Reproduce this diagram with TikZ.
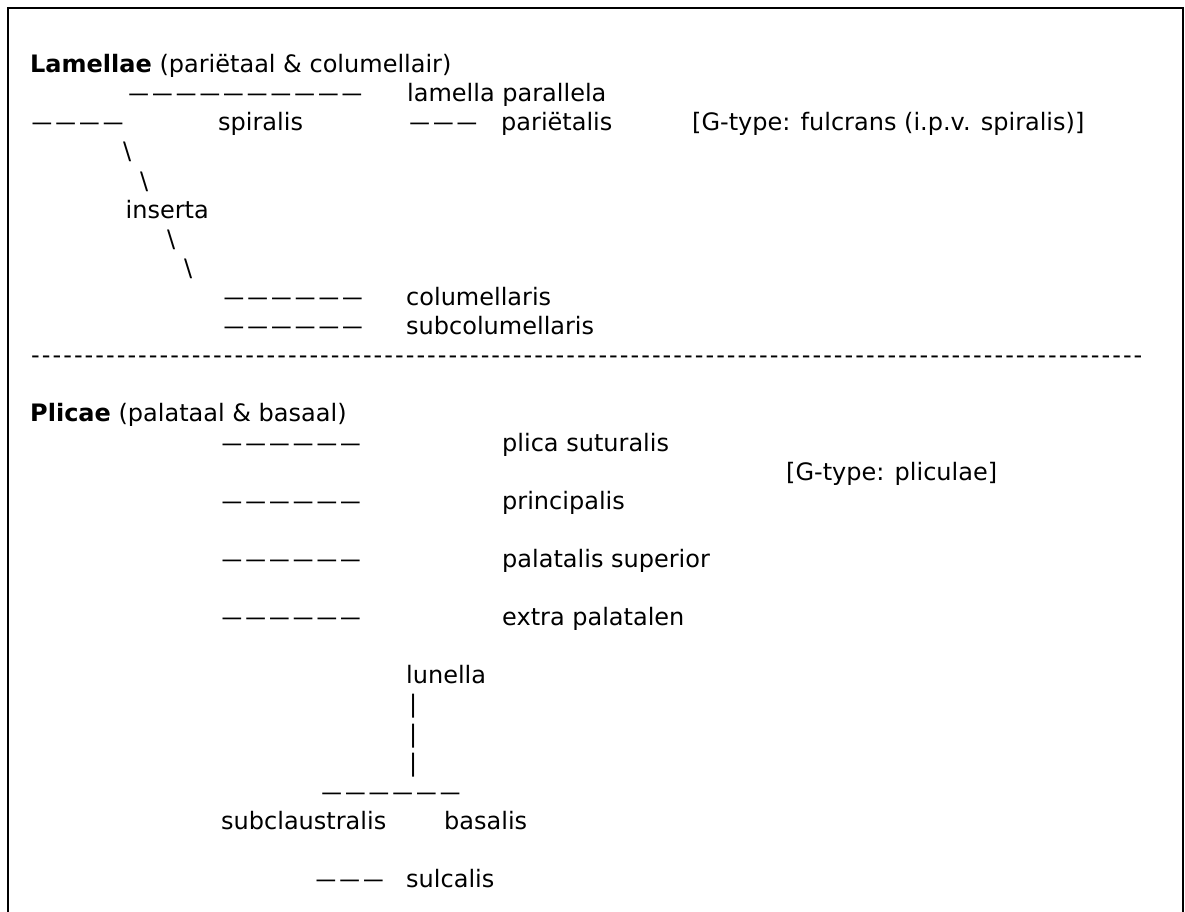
\documentclass[tikz,border=0pt]{standalone}
\usepackage{fontspec}
\setmainfont{DejaVu Sans}
\usepackage{graphicx}

\newcount\repcount
\newcommand{\rep}[2]{\repcount = #1\relax\loop\ifnum\repcount > 0 #2\advance\repcount by -1 \repeat}
\newcommand{\dashes}[1]{\rep{#1}{\makebox[23.7pt]{\scalebox{0.86}[1]{—}}}}
\newcommand{\hyphens}[1]{\rep{#1}{\makebox[10.7pt]{-}}}

\begin{document}
\begin{tikzpicture}[x = 1pt, y = -1pt,
	txt/.style = {anchor = base west, inner sep = 0pt, font = \fontsize{24}{29}\selectfont},
	frame/.style = {line width = 1.6pt}]

	% Definitions

	\def\B{72.7}	% Baseline of the first row
	\def\P{29.1}	% Row pitch

	\useasboundingbox (0, 0) rectangle (1185, 912);

	% Frame, open at the bottom

	\draw [frame] (7.7, 912) -- (7.7, 8.3) -- (1182.7, 8.3) -- (1182.7, 912);

	% Lamellae

	\node [txt] (lamellae) at (30, {\B}) {\textbf{Lamellae} (pariëtaal \& columellair)};
	\node [txt] (parallelabar) at (126.7, {\B + 1 * \P}) {\dashes{10}};
	\node [txt] (parallela) at (407, {\B + 1 * \P}) {lamella parallela};
	\node [txt] (spiralisbar) at (30, {\B + 2 * \P}) {\dashes{4}};
	\node [txt] (spiralis) at (218, {\B + 2 * \P}) {spiralis};
	\node [txt] (parietbar) at (407.6, {\B + 2 * \P}) {\dashes{3}};
	\node [txt] (parietalis) at (501, {\B + 2 * \P}) {pariëtalis};
	\node [txt] (fulcrans) at (692, {\B + 2 * \P}) {[G-type: fulcrans (i.p.v. spiralis)]};

	\node [txt] (slash1) at (123, {\B + 3 * \P}) {\textbackslash};
	\node [txt] (slash2) at (140, {\B + 4 * \P}) {\textbackslash};
	\node [txt] (inserta) at (125.5, {\B + 5 * \P}) {inserta};
	\node [txt] (slash3) at (167, {\B + 6 * \P}) {\textbackslash};
	\node [txt] (slash4) at (184, {\B + 7 * \P}) {\textbackslash};

	\node [txt] (columbar) at (222, {\B + 8 * \P}) {\dashes{6}};
	\node [txt] (columellaris) at (406, {\B + 8 * \P}) {columellaris};
	\node [txt] (subcolumbar) at (222, {\B + 9 * \P}) {\dashes{6}};
	\node [txt] (subcolumellaris) at (406, {\B + 9 * \P}) {subcolumellaris};

	% Separator

	\node [txt] (sepline) at (30, {\B + 10 * \P}) {\hyphens{104}};

	% Plicae

	\node [txt] (plicae) at (30, {\B + 12 * \P}) {\textbf{Plicae} (palataal \& basaal)};

	\foreach \r/\name/\lbl in {13/suturalis/plica suturalis, 15/principalis/principalis,
		17/superior/palatalis superior, 19/extra/extra palatalen}
	{
		\node [txt] (\name bar) at (220, {\B + \r * \P}) {\dashes{6}};
		\node [txt] (\name) at (502, {\B + \r * \P}) {\lbl};
	}

	\node [txt] (pliculae) at (786, {\B + 14 * \P}) {[G-type: pliculae]};

	\node [txt] (lunella) at (406, {\B + 21 * \P}) {lunella};
	\foreach \r in {22, 23, 24}
		\node [txt] (stem\r) at (409, {\B + \r * \P}) {\textbar};

	\node [txt] (basebar) at (319.6, {\B + 25 * \P}) {\dashes{6}};
	\node [txt] (subclaustralis) at (221, {\B + 26 * \P}) {subclaustralis};
	\node [txt] (basalis) at (444, {\B + 26 * \P}) {basalis};

	\node [txt] (sulcbar) at (314, {\B + 28 * \P}) {\dashes{3}};
	\node [txt] (sulcalis) at (406, {\B + 28 * \P}) {sulcalis};

\end{tikzpicture}
\end{document}
